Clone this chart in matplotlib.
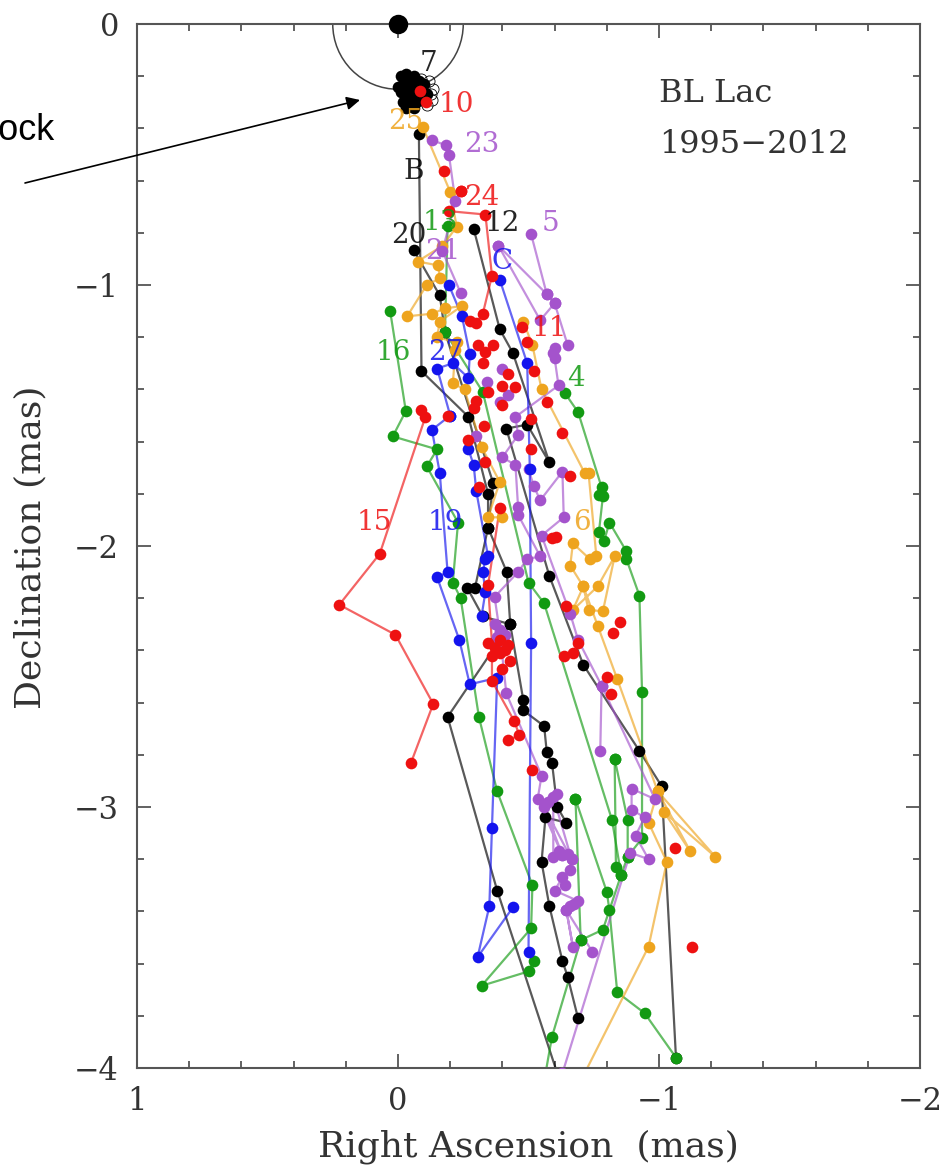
import matplotlib
matplotlib.use("Agg")
import matplotlib.pyplot as plt
from matplotlib.patches import Circle
from matplotlib.ticker import MultipleLocator, FuncFormatter

RED = "#ee1111"
BLUE = "#1414ee"
GREEN = "#129a12"
ORANGE = "#eea41e"
PURPLE = "#a453cc"
BLACK = "#000000"
TXT = "#333333"

# (RA, Dec) in mas
black_b = [(-0.08,-0.42),(-0.09,-1.33),(-0.27,-1.505),(-0.345,-1.80),(-0.345,-1.93),(-0.417,-2.10),(-0.43,-2.30),
           (-0.48,-2.59),(-0.48,-2.63),(-0.56,-2.69),(-0.57,-2.79),(-0.59,-2.83),(-0.61,-3.0),(-0.645,-3.06),
           (-0.565,-3.04),(-0.55,-3.21),(-0.58,-3.38),(-0.63,-3.59),(-0.65,-3.65),(-0.69,-3.81)]
black_12 = [(-0.29,-0.785),(-0.39,-1.17),(-0.44,-1.26),(-0.58,-1.68),(-0.495,-1.535),(-0.415,-1.55),(-0.58,-2.115),
            (-0.71,-2.455),(-0.925,-2.785),(-1.01,-2.92),(-1.065,-3.96)]
black_20 = [(-0.06,-0.866),(-0.16,-1.04),(-0.18,-1.18),(-0.365,-1.76),(-0.345,-1.93),(-0.295,-2.16),(-0.265,-2.16),
            (-0.325,-2.27),(-0.43,-2.30),(-0.19,-2.655),(-0.38,-3.32),(-0.62,-4.05)]

red_15 = [(-0.09,-1.48),(-0.105,-1.505),(0.07,-2.03),(0.225,-2.225),(0.01,-2.34),(-0.135,-2.605),(-0.05,-2.83)]
red_24 = [(-0.24,-0.64),(-0.195,-0.717),(-0.335,-0.73),(-0.36,-0.965),(-0.325,-1.11),(-0.30,-1.146),(-0.275,-1.137)]
red_10 = [(-0.175,-0.563)]
red_low = [(-0.39,-1.855),(-0.345,-2.15),(-0.36,-2.37),(-0.36,-2.517),(-0.445,-2.67),(-0.465,-2.725),(-0.42,-2.745)]
red_dots = [(-0.084,-0.256),(-0.107,-0.30),(-0.24,-0.64),(-0.475,-1.16),(-0.495,-1.22),(-0.305,-1.23),(-0.365,-1.23),
            (-0.335,-1.255),(-0.325,-1.30),(-0.52,-1.33),(-0.42,-1.34),(-0.40,-1.387),(-0.45,-1.39),(-0.345,-1.41),
            (-0.30,-1.445),(-0.29,-1.47),(-0.40,-1.46),(-0.57,-1.45),(-0.63,-1.567),(-0.51,-1.515),(-0.51,-1.63),
            (-0.33,-1.54),(-0.27,-1.594),(-0.335,-1.68),(-0.19,-1.50),(-0.31,-1.775),(-0.66,-1.73),(-0.59,-1.97),
            (-0.605,-1.965),(-0.645,-2.23),(-0.85,-2.29),(-0.825,-2.335),(-0.69,-2.37),(-0.635,-2.42),(-0.67,-2.41),
            (-0.80,-2.50),(-0.815,-2.567),(-0.345,-2.37),(-0.39,-2.36),(-0.42,-2.38),(-0.36,-2.42),(-0.39,-2.41),
            (-0.43,-2.44),(-0.40,-2.47),(-0.41,-2.40),(-0.37,-2.39),(-0.515,-2.86),(-1.06,-3.157),(-1.125,-3.535)]

blue_c = [(-0.39,-0.98),(-0.495,-1.30),(-0.505,-1.705),(-0.51,-2.37),(-0.50,-3.555)]
blue_27 = [(-0.195,-1.0),(-0.245,-1.12),(-0.275,-1.265),(-0.27,-1.356),(-0.21,-1.30),(-0.15,-1.32),(-0.2,-1.50)]
blue_19 = [(-0.2,-1.50),(-0.13,-1.555),(-0.16,-1.72),(-0.19,-2.10),(-0.15,-2.12),(-0.235,-2.36),(-0.275,-2.53),
           (-0.38,-2.505),(-0.36,-3.08),(-0.35,-3.38),(-0.305,-3.575),(-0.44,-3.385)]
blue_mid = [(-0.27,-1.63),(-0.29,-1.69),(-0.30,-1.79),(-0.345,-2.04),(-0.335,-2.05),(-0.325,-2.10),(-0.335,-2.175),(-0.32,-2.27)]

green_16 = [(0.03,-1.10),(-0.03,-1.483),(0.02,-1.58),(-0.15,-1.63),(-0.11,-1.695),(-0.23,-1.91),(-0.21,-2.14),(-0.24,-2.20),
            (-0.31,-2.655),(-0.38,-2.94),(-0.515,-3.30),(-0.51,-3.465),(-0.32,-3.685),(-0.50,-3.63),(-0.52,-3.59)]
green_4 = [(-0.64,-1.415),(-0.69,-1.487),(-0.78,-1.775),(-0.77,-1.805),(-0.785,-1.81),(-0.77,-1.945),(-0.79,-1.98),(-0.81,-1.91),
           (-0.875,-2.02),(-0.875,-2.05),(-0.925,-2.19),(-0.935,-2.56),(-0.935,-3.12),(-0.88,-3.19),(-0.855,-3.26),(-0.785,-3.47),
           (-0.70,-3.51)]
green_13 = [(-0.19,-0.775),(-0.18,-1.18),(-0.325,-1.41),(-0.50,-2.14),(-0.56,-2.22),(-0.82,-3.05),(-0.855,-3.26)]
green_b = [(-0.83,-2.815),(-0.835,-3.23)]
green_c = [(-0.83,-2.815),(-0.88,-3.05),(-0.88,-3.19)]
green_d = [(-0.68,-2.97),(-0.80,-3.325),(-0.81,-3.395),(-0.84,-3.71),(-0.945,-3.79),(-1.065,-3.96)]
green_e = [(-0.68,-2.97),(-0.70,-3.51),(-0.59,-3.88),(-0.56,-4.05)]

orange_25 = [(-0.095,-0.395),(-0.20,-0.643),(-0.225,-0.777),(-0.17,-0.85),(-0.075,-0.91),(-0.155,-0.925),(-0.16,-0.975),
             (-0.11,-1.0),(-0.035,-1.12),(-0.13,-1.11),(-0.18,-1.09),(-0.245,-1.08),(-0.16,-1.14),(-0.15,-1.2),(-0.225,-1.22),
             (-0.22,-1.25),(-0.21,-1.377),(-0.255,-1.40),(-0.32,-1.62),(-0.39,-1.755),(-0.345,-1.89),(-0.40,-1.89)]
orange_6 = [(-0.48,-1.14),(-0.515,-1.23),(-0.55,-1.40),(-0.715,-1.72),(-0.73,-1.72),(-0.76,-2.04),(-0.735,-2.05),(-0.67,-1.99),
            (-0.66,-2.075),(-0.71,-2.155),(-0.67,-2.245),(-0.765,-2.155),(-0.83,-2.04),(-0.785,-2.25),(-0.73,-2.245),(-0.71,-2.155),
            (-0.765,-2.305),(-0.84,-2.51),(-0.995,-2.94),(-1.215,-3.19),(-1.02,-3.02),(-1.12,-3.17),(-0.995,-2.94),(-0.96,-3.06),
            (-1.03,-3.21),(-0.96,-3.535),(-0.70,-4.05)]

purple_23 = [(-0.13,-0.445),(-0.185,-0.465),(-0.195,-0.50),(-0.22,-0.68),(-0.17,-0.87),(-0.24,-1.03)]
purple_5 = [(-0.51,-0.805),(-0.57,-1.035),(-0.60,-1.07),(-0.65,-1.23)]
purple_b = [(-0.385,-0.85),(-0.57,-1.035)]
purple_c = [(-0.385,-0.85),(-0.545,-1.135),(-0.60,-1.07)]
purple_mid = [(-0.60,-1.24),(-0.595,-1.26),(-0.60,-1.28),(-0.615,-1.385),(-0.45,-1.505),(-0.46,-1.575),(-0.40,-1.66),(-0.45,-1.69),
              (-0.46,-1.85),(-0.46,-1.88),(-0.545,-2.04),(-0.495,-2.05),(-0.46,-2.10),(-0.37,-2.195),(-0.39,-2.33),(-0.415,-2.565),
              (-0.55,-2.88),(-0.535,-2.97),(-0.63,-3.185),(-0.56,-3.0),(-0.665,-3.20),(-0.595,-2.96),(-0.595,-3.19),(-0.63,-3.185),
              (-0.665,-3.20),(-0.66,-3.24),(-0.63,-3.27),(-0.60,-3.32),(-0.69,-3.36),(-0.66,-3.38),(-0.645,-3.395),(-0.67,-3.535),
              (-0.645,-3.395),(-0.745,-3.555)]
purple_e = [(-0.50,-1.705),(-0.52,-1.77),(-0.545,-1.825),(-0.63,-1.715),(-0.635,-1.89),(-0.55,-1.96),(-0.66,-2.26),(-0.69,-2.36),
            (-0.78,-2.535),(-0.775,-2.785)]
purple_f = [(-0.78,-2.535),(-0.985,-2.97),(-0.895,-2.93),(-0.895,-3.01),(-0.945,-3.04),(-0.91,-3.11),(-0.96,-3.20),(-0.89,-3.175),(-0.63,-4.02)]
purple_dots = [(-0.40,-1.32),(-0.34,-1.37),(-0.30,-1.58),(-0.39,-1.45),(-0.42,-1.42),(-0.575,-2.98),(-0.61,-2.95),
               (-0.615,-3.17),(-0.65,-3.18),(-0.64,-3.30),(-0.675,-3.37)]
purple_blob = [(-0.37,-2.30),(-0.39,-2.32),(-0.41,-2.34),(-0.38,-2.35)]

cluster = [(-0.01,-0.20),(-0.03,-0.19),(-0.06,-0.20),(-0.08,-0.22),(-0.02,-0.23),(-0.04,-0.25),(-0.07,-0.24),(-0.10,-0.23),
           (-0.01,-0.26),(-0.03,-0.28),(-0.06,-0.27),(-0.09,-0.26),(-0.02,-0.30),(-0.05,-0.31),(-0.07,-0.30),(-0.04,-0.22),
           (-0.05,-0.29),(-0.08,-0.29),(-0.03,-0.32),(0.0,-0.24),(-0.06,-0.32),(-0.11,-0.27)]
cluster_rim = [(-0.09,-0.21),(-0.12,-0.22),(-0.135,-0.25),(-0.13,-0.29),(-0.11,-0.31),(-0.10,-0.24),(-0.125,-0.27),(-0.09,-0.29)]

tracks = [(black_b, BLACK), (black_12, BLACK), (black_20, BLACK),
          (green_16, GREEN), (green_4, GREEN), (green_13, GREEN), (green_b, GREEN), (green_c, GREEN), (green_d, GREEN), (green_e, GREEN),
          (orange_25, ORANGE), (orange_6, ORANGE),
          (purple_23, PURPLE), (purple_5, PURPLE), (purple_b, PURPLE), (purple_c, PURPLE), (purple_mid, PURPLE), (purple_e, PURPLE), (purple_f, PURPLE),
          (blue_c, BLUE), (blue_27, BLUE), (blue_19, BLUE), (blue_mid, BLUE),
          (red_15, RED), (red_24, RED), (red_10, RED), (red_low, RED)]

comp_labels = ["7","10","25","23","B","24","13","12","5","20","21","C","11","16","27","4","15","19","6"]
comp_ra = [-0.115,-0.225,-0.03,-0.32,-0.06,-0.32,-0.16,-0.40,-0.585,-0.04,-0.17,-0.40,-0.58,0.02,-0.185,-0.68,0.09,-0.18,-0.705]
comp_dec = [-0.153,-0.31,-0.375,-0.46,-0.565,-0.665,-0.76,-0.765,-0.765,-0.81,-0.87,-0.91,-1.165,-1.26,-1.26,-1.36,-1.91,-1.91,-1.91]
comp_colors = [BLACK,RED,ORANGE,PURPLE,BLACK,RED,GREEN,BLACK,PURPLE,BLACK,PURPLE,BLUE,RED,GREEN,BLUE,GREEN,RED,BLUE,ORANGE]

plt.rcParams['font.family'] = ['DejaVu Serif']
fig = plt.figure(figsize=(9.51, 11.75), dpi=100)
ax = fig.add_axes([137/951, 1 - 1068/1175, (920 - 137)/951, (1068 - 24)/1175])
ax.set_xlim(1, -2)
ax.set_ylim(-4, 0)

ax.add_patch(Circle((0, 0), 0.25, fill=False, ec="#444444", lw=1.1))

for pts, col in tracks:
    ra = [p[0] for p in pts]
    dec = [p[1] for p in pts]
    ax.plot(ra, dec, color=col, lw=1.6, alpha=0.65, zorder=2)

for pts, col in tracks:
    ra = [p[0] for p in pts]
    dec = [p[1] for p in pts]
    ax.plot(ra, dec, ls="none", marker="o", ms=8.4, color=col, mec="none", zorder=3)

ax.plot([p[0] for p in purple_dots + purple_blob], [p[1] for p in purple_dots + purple_blob],
        ls="none", marker="o", ms=8.4, color=PURPLE, mec="none", zorder=3)
ax.plot([p[0] for p in cluster], [p[1] for p in cluster], color=BLACK, lw=0.7, zorder=3)
ax.plot([p[0] for p in cluster], [p[1] for p in cluster], ls="none", marker="o", ms=8.4, color=BLACK, mec="none", zorder=3)
ax.plot([p[0] for p in cluster_rim], [p[1] for p in cluster_rim], ls="none", marker="o", ms=8, mfc="none", mec=BLACK, mew=0.6, zorder=3)
ax.plot([p[0] for p in red_dots], [p[1] for p in red_dots], ls="none", marker="o", ms=8.4, color=RED, mec="none", zorder=4)
ax.plot([0], [0], marker="o", ms=14, color=BLACK, mec="none", clip_on=False, zorder=6)

for lab, r, d, c in zip(comp_labels, comp_ra, comp_dec, comp_colors):
    ax.text(r, d, lab, color=c, fontsize=20, ha="center", va="center", zorder=5, alpha=0.85)

ax.text(-1.0, -0.265, "BL Lac", fontsize=23, color=TXT, ha="left", va="center")
ax.text(-1.0, -0.46, "1995\u22122012", fontsize=23, color=TXT, ha="left", va="center")

ax.xaxis.set_major_locator(MultipleLocator(1))
ax.xaxis.set_minor_locator(MultipleLocator(0.2))
ax.yaxis.set_major_locator(MultipleLocator(1))
ax.yaxis.set_minor_locator(MultipleLocator(0.2))
fmt = FuncFormatter(lambda v, p: "0" if abs(v) < 1e-6 else f"{v:.0f}".replace("-", "\u2212"))
ax.xaxis.set_major_formatter(fmt)
ax.yaxis.set_major_formatter(fmt)
ax.tick_params(which="both", direction="in", top=True, right=True, color="#555555", width=1.3)
ax.tick_params(which="major", length=10, labelsize=22, labelcolor=TXT, pad=13)
ax.tick_params(which="minor", length=5)
for s in ax.spines.values():
    s.set_color("#555555")
    s.set_linewidth(1.5)

fig.text(528/951, 1 - 1147/1175, "Right Ascension  (mas)", fontsize=26, color=TXT, ha="center", va="center")
fig.text(30/951, 1 - 547/1175, "Declination (mas)", fontsize=26, color=TXT, rotation=90, ha="center", va="center")

fig.text(55/951, 1 - 130/1175, "Shock", family="Liberation Sans", fontsize=26, color="black", ha="right", va="center")
ax.annotate("", xy=(360/951, 1 - 100/1175), xytext=(25/951, 1 - 183/1175),
            xycoords="figure fraction", textcoords="figure fraction",
            arrowprops=dict(arrowstyle="-|>", color="black", lw=1.2, mutation_scale=20, shrinkA=0, shrinkB=0), annotation_clip=False)

fig.savefig("out.png", dpi=100)
